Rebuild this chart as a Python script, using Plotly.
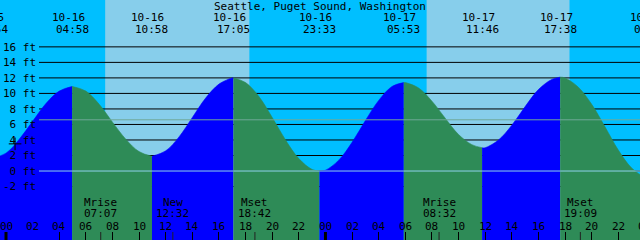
import plotly.graph_objects as go
import pandas as pd

# ---------------- data ----------------
TITLE = "Seattle, Puget Sound, Washington"

# tide extremes (date, time, height ft)
event_dates = ["10-15", "10-16", "10-16", "10-16", "10-16", "10-17", "10-17", "10-17", "10-18"]
event_times = ["22:54", "04:58", "10:58", "17:05", "23:33", "05:53", "11:46", "17:38", "00:24"]
event_feet = [1.6, 10.9, 1.9, 12.0, 0.0, 11.4, 3.0, 12.1, -0.9]

# tide height (hours since 10-16 00:00)
curve_hour = list(range(0, 49))
curve_feet = [2.3, 4.1, 6.4, 8.7, 10.3, 10.9, 10.3, 8.6, 6.3, 4.1,
              2.5, 1.9, 2.6, 4.4, 6.9, 9.4, 11.2, 12.0, 11.4, 9.6,
              6.9, 4.0, 1.6, 0.2, 0.1, 1.4, 3.7, 6.5, 9.1, 10.9,
              11.4, 10.7, 9.0, 6.8, 4.7, 3.4, 3.0, 4.0, 5.9, 8.3,
              10.5, 11.8, 12.0, 10.8, 8.6, 5.7, 2.7, 0.4, -0.8]

# sun (day) intervals
sunrise = [("10-16", "07:27"), ("10-17", "07:36")]
sunset = [("10-16", "18:17"), ("10-17", "18:20")]

# moon events
moon_names = ["Mrise", "New", "Mset", "Mrise", "Mset"]
moon_dates = ["10-16", "10-16", "10-16", "10-17", "10-17"]
moon_times = ["07:07", "12:32", "18:42", "08:32", "19:09"]

# axis labels
hour_ticks = list(range(0, 49, 2))
hour_labels = ["%02d" % (h % 24) for h in hour_ticks]
feet_ticks = list(range(-2, 17, 2))
feet_labels = ["\u00a0" * (5 - len("%d ft" % f)) + "%d ft" % f for f in feet_ticks]
midnights = [0, 24]
msl_feet = 6.6
datum_feet = 0.0
mark_hour = [0.68]
mark_feet = [3.5]

# ---------------- styling ----------------
NIGHT = "#00BFFF"
DAY = "#87CEEB"
FLOOD = "#0000FF"
EBB = "#2E8B57"
FONT = "DejaVu Sans Mono"
FS = 11
W, H = 640, 240
X_RANGE = [-0.451, 47.63]
Y_RANGE = [-8.89, 22.04]
LINE_X0 = 39 / W


def hrs(d, t):
    ts = pd.Timestamp("2000-%s %s" % (d, t))
    return (ts - pd.Timestamp("2000-10-16 00:00")) / pd.Timedelta(hours=1)


def xpaper(h):
    return (h - X_RANGE[0]) / (X_RANGE[1] - X_RANGE[0])


event_hours = [hrs(d, t) for d, t in zip(event_dates, event_times)]
moon_hours = [hrs(d, t) for d, t in zip(moon_dates, moon_times)]

fig = go.Figure()

# water fill, one segment per rise/fall
for i in range(len(event_hours) - 1):
    t0, t1 = event_hours[i], event_hours[i + 1]
    h0, h1 = event_feet[i], event_feet[i + 1]
    xs = [t0] + [t for t in curve_hour if t0 + 0.05 < t < t1 - 0.05] + [t1]
    ys = [h0] + [f for t, f in zip(curve_hour, curve_feet) if t0 + 0.05 < t < t1 - 0.05] + [h1]
    col = FLOOD if h1 > h0 else EBB
    fig.add_trace(go.Scatter(x=[t0, t1], y=[Y_RANGE[0] - 1, Y_RANGE[0] - 1], mode="lines",
                             line=dict(width=0, color=col), showlegend=False, hoverinfo="skip"))
    fig.add_trace(go.Scatter(x=xs, y=ys, mode="lines", line=dict(width=0.6, color=col, shape="spline"),
                             fill="tonexty", fillcolor=col, showlegend=False, hoverinfo="skip"))

# "+" mark
fig.add_trace(go.Scatter(x=mark_hour, y=mark_feet, mode="markers",
                         marker=dict(symbol="cross-thin", size=9, line=dict(width=1, color="black")),
                         showlegend=False, hoverinfo="skip"))

shapes = []
for (d0, t0), (d1, t1) in zip(sunrise, sunset):
    shapes.append(dict(type="rect", xref="x", yref="paper", x0=hrs(d0, t0), x1=hrs(d1, t1), y0=0, y1=1,
                       fillcolor=DAY, line=dict(width=0), layer="below"))
for f in feet_ticks:
    shapes.append(dict(type="line", xref="paper", yref="y", x0=LINE_X0, x1=1, y0=f, y1=f,
                       line=dict(color="black", width=1), layer="below"))
shapes.append(dict(type="line", xref="paper", yref="y", x0=LINE_X0, x1=1, y0=msl_feet, y1=msl_feet,
                   line=dict(color="#6FA898", width=1), layer="above"))
shapes.append(dict(type="line", xref="paper", yref="y", x0=LINE_X0, x1=1, y0=datum_feet, y1=datum_feet,
                   line=dict(color="#8FD0EA", width=1), layer="above"))
for m in midnights:
    shapes.append(dict(type="line", xref="x", yref="paper", x0=m, x1=m, y0=0, y1=8 / H,
                       line=dict(color="black", width=3), layer="above"))
for mh in moon_hours:
    shapes.append(dict(type="line", xref="x", yref="paper", x0=mh, x1=mh, y0=0, y1=8 / H,
                       line=dict(color="#222222", width=1), layer="above"))

tf = dict(family=FONT, size=FS, color="black")
ann = []
ann.append(dict(text=TITLE, xref="paper", yref="paper", x=0.5, y=1 - 6 / H, showarrow=False,
                xanchor="center", yanchor="middle", font=tf, borderpad=0))
for d, t, eh in zip(event_dates, event_times, event_hours):
    ann.append(dict(text=d, xref="paper", yref="paper", x=xpaper(eh), y=1 - 17.5 / H, showarrow=False,
                    xshift=-4, xanchor="center", yanchor="middle", font=tf, borderpad=0))
    ann.append(dict(text=t, xref="paper", yref="paper", x=xpaper(eh), y=1 - 29.5 / H, showarrow=False,
                    xanchor="center", yanchor="middle", font=tf, borderpad=0))
for n, t, mh in zip(moon_names, moon_times, moon_hours):
    ann.append(dict(text=n, xref="paper", yref="paper", x=xpaper(mh), y=1 - 202 / H, showarrow=False,
                    xanchor="center", yanchor="middle", font=tf, borderpad=0))
    ann.append(dict(text=t, xref="paper", yref="paper", x=xpaper(mh), y=1 - 213 / H, showarrow=False,
                    xanchor="center", yanchor="middle", font=tf, borderpad=0))
for hv, hl in zip(hour_ticks, hour_labels):
    ann.append(dict(text=hl, xref="paper", yref="paper", x=xpaper(hv), y=1 - 226 / H, showarrow=False,
                    xanchor="center", yanchor="middle", font=tf, borderpad=0))

fig.update_layout(
    width=W, height=H, margin=dict(l=0, r=0, t=0, b=0, pad=0),
    paper_bgcolor=NIGHT, plot_bgcolor=NIGHT,
    shapes=shapes, annotations=ann, showlegend=False,
    xaxis=dict(range=X_RANGE, showgrid=False, zeroline=False, showline=False,
               tickvals=hour_ticks, ticktext=hour_labels, ticks="inside", ticklen=8, tickwidth=1,
               tickcolor="black", showticklabels=False, automargin=False, fixedrange=True),
    yaxis=dict(range=Y_RANGE, showgrid=False, zeroline=False, showline=False,
               tickvals=feet_ticks, ticktext=feet_labels, ticks="", ticklabelposition="inside",
               automargin=False, tickfont=tf, fixedrange=True),
)

fig.write_html("out.html", config=dict(displayModeBar=False))
